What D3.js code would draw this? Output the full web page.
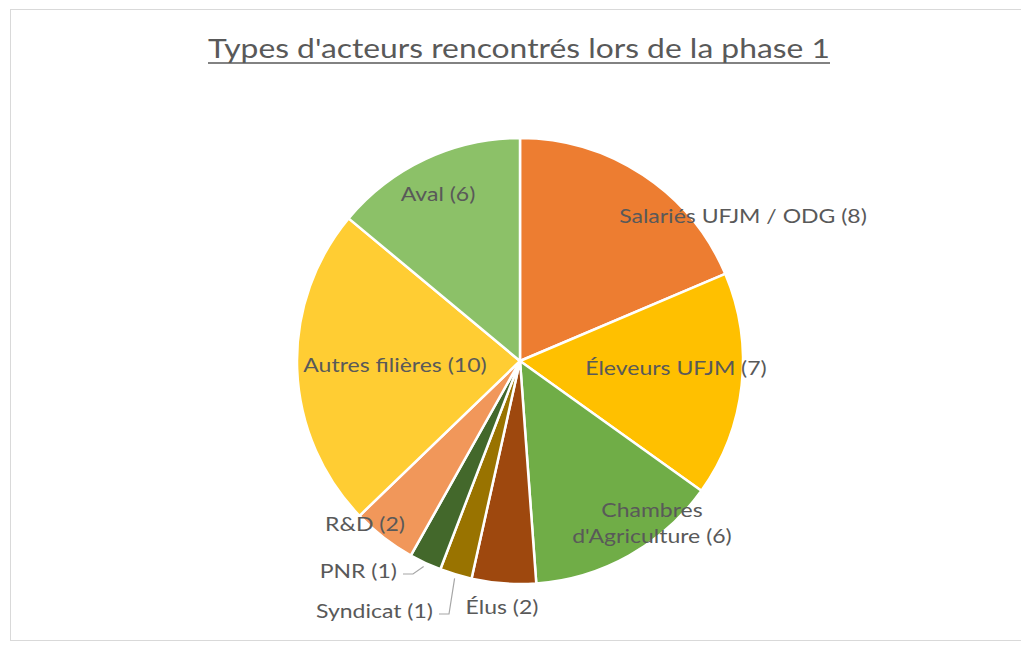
<!DOCTYPE html>
<html>
<head>
<meta charset="utf-8">
<script src="https://cdn.jsdelivr.net/npm/d3@7"></script>
<style>
  body { margin: 0; background: #fff; }
  svg { display: block; }
</style>
</head>
<body>
<div id="chart"></div>
<script>
// data, clockwise from 12 o'clock
const categories = ['Salariés UFJM / ODG', 'Éleveurs UFJM', 'Chambres d\'Agriculture', 'Élus',
  'Syndicat', 'PNR', 'R&D', 'Autres filières', 'Aval'];
const counts = [8, 7, 6, 2, 1, 1, 2, 10, 6];
const colors = ['#ED7D31', '#FFC000', '#70AD47', '#9E480E', '#997300', '#43682B',
  '#F1975A', '#FFCD33', '#8CC168'];
const title = "Types d'acteurs rencontrés lors de la phase 1";

const width = 1021;
const height = 646;
const cx = 520;
const cy = 361;
const radius = 223;
const stretch = 1.15; // the source glyphs are wider than Lato's

// label placement relative to pie centre (Excel "best fit" style)
const labelLayout = {
  'Salariés UFJM / ODG': { dx: 223, dy: -145, lines: ['Salariés UFJM / ODG (8)'] },
  'Éleveurs UFJM': { dx: 156, dy: 7, lines: ['Éleveurs UFJM (7)'] },
  'Chambres d\'Agriculture': { dx: 132, dy: 162, lines: ['Chambres', 'd\'Agriculture (6)'] },
  'Élus': { dx: -18, dy: 246, lines: ['Élus (2)'] },
  'Syndicat': { dx: -87, dy: 250, lines: ['Syndicat (1)'], anchor: 'end', leader: true },
  'PNR': { dx: -123, dy: 210, lines: ['PNR (1)'], anchor: 'end', leader: true },
  'R&D': { dx: -155, dy: 163, lines: ['R&D (2)'] },
  'Autres filières': { dx: -125, dy: 4, lines: ['Autres filières (10)'] },
  'Aval': { dx: -82, dy: -167, lines: ['Aval (6)'] },
};

const svg = d3.select('#chart')
  .append('svg')
  .attr('width', width)
  .attr('height', height);

// chart area frame
svg.append('rect')
  .attr('x', 10.5)
  .attr('y', 9.5)
  .attr('width', width - 10)
  .attr('height', height - 15)
  .attr('fill', '#fff')
  .attr('stroke', '#D9D9D9');

const titleG = svg.append('g');
const titleText = titleG.append('text')
  .attr('x', 0)
  .attr('y', 0)
  .attr('text-anchor', 'middle')
  .style('font-family', 'Lato, "Open Sans", sans-serif')
  .style('font-size', '26px')
  .style('fill', '#595959')
  .text(title);

const tb = titleText.node().getBBox();
const titleScale = 622 / tb.width;
titleG.attr('transform', `translate(${cx - 1},58) scale(${titleScale},1)`);
titleG.append('line')
  .attr('x1', tb.x)
  .attr('x2', tb.x + tb.width)
  .attr('y1', 5)
  .attr('y2', 5)
  .attr('stroke', '#595959')
  .attr('stroke-width', 1.5);

const data = categories.map((c, i) => ({ name: c, value: counts[i], color: colors[i] }));

const pie = d3.pie()
  .value((d) => d.value)
  .sort(null);

const arc = d3.arc()
  .innerRadius(0)
  .outerRadius(radius);

const g = svg.append('g')
  .attr('transform', `translate(${cx},${cy})`);

const arcs = pie(data);

g.selectAll('.slice')
  .data(arcs)
  .enter()
  .append('path')
  .attr('class', 'slice')
  .attr('d', arc)
  .attr('fill', (d) => d.data.color)
  .attr('stroke', '#fff')
  .attr('stroke-width', 2.5)
  .attr('stroke-linejoin', 'round');

const labels = g.selectAll('.lbl')
  .data(arcs)
  .enter()
  .append('text')
  .attr('class', 'lbl')
  .attr('text-anchor', (d) => labelLayout[d.data.name].anchor || 'middle')
  .style('font-family', 'Lato, "Open Sans", sans-serif')
  .style('font-size', '20px')
  .style('fill', '#595959')
  .attr('transform', (d) => {
    const L = labelLayout[d.data.name];
    return `translate(${L.dx},${L.dy}) scale(${stretch},1)`;
  });

labels.each((d, i, nodes) => {
  const L = labelLayout[d.data.name];
  const n = L.lines.length;
  L.lines.forEach((line, k) => {
    d3.select(nodes[i]).append('tspan')
      .attr('x', 0)
      .attr('y', (k - (n - 1) / 2) * 27)
      .attr('dy', '0.35em')
      .text(line);
  });
});

// leader lines for the two tiny slices: text end -> elbow -> slice rim
const rimArc = d3.arc().innerRadius(radius + 4).outerRadius(radius + 4);
arcs.filter((d) => labelLayout[d.data.name].leader).forEach((d) => {
  const L = labelLayout[d.data.name];
  const [ex, ey] = rimArc.centroid(d);
  const sx = L.dx + 6;
  const sy = L.dy + 3;
  const pts = [[sx, sy], [sx + 10, sy], [ex, ey]];
  g.append('path')
    .attr('d', d3.line()(pts))
    .attr('fill', 'none')
    .attr('stroke', '#A6A6A6')
    .attr('stroke-width', 1.2);
});
</script>
</body>
</html>
